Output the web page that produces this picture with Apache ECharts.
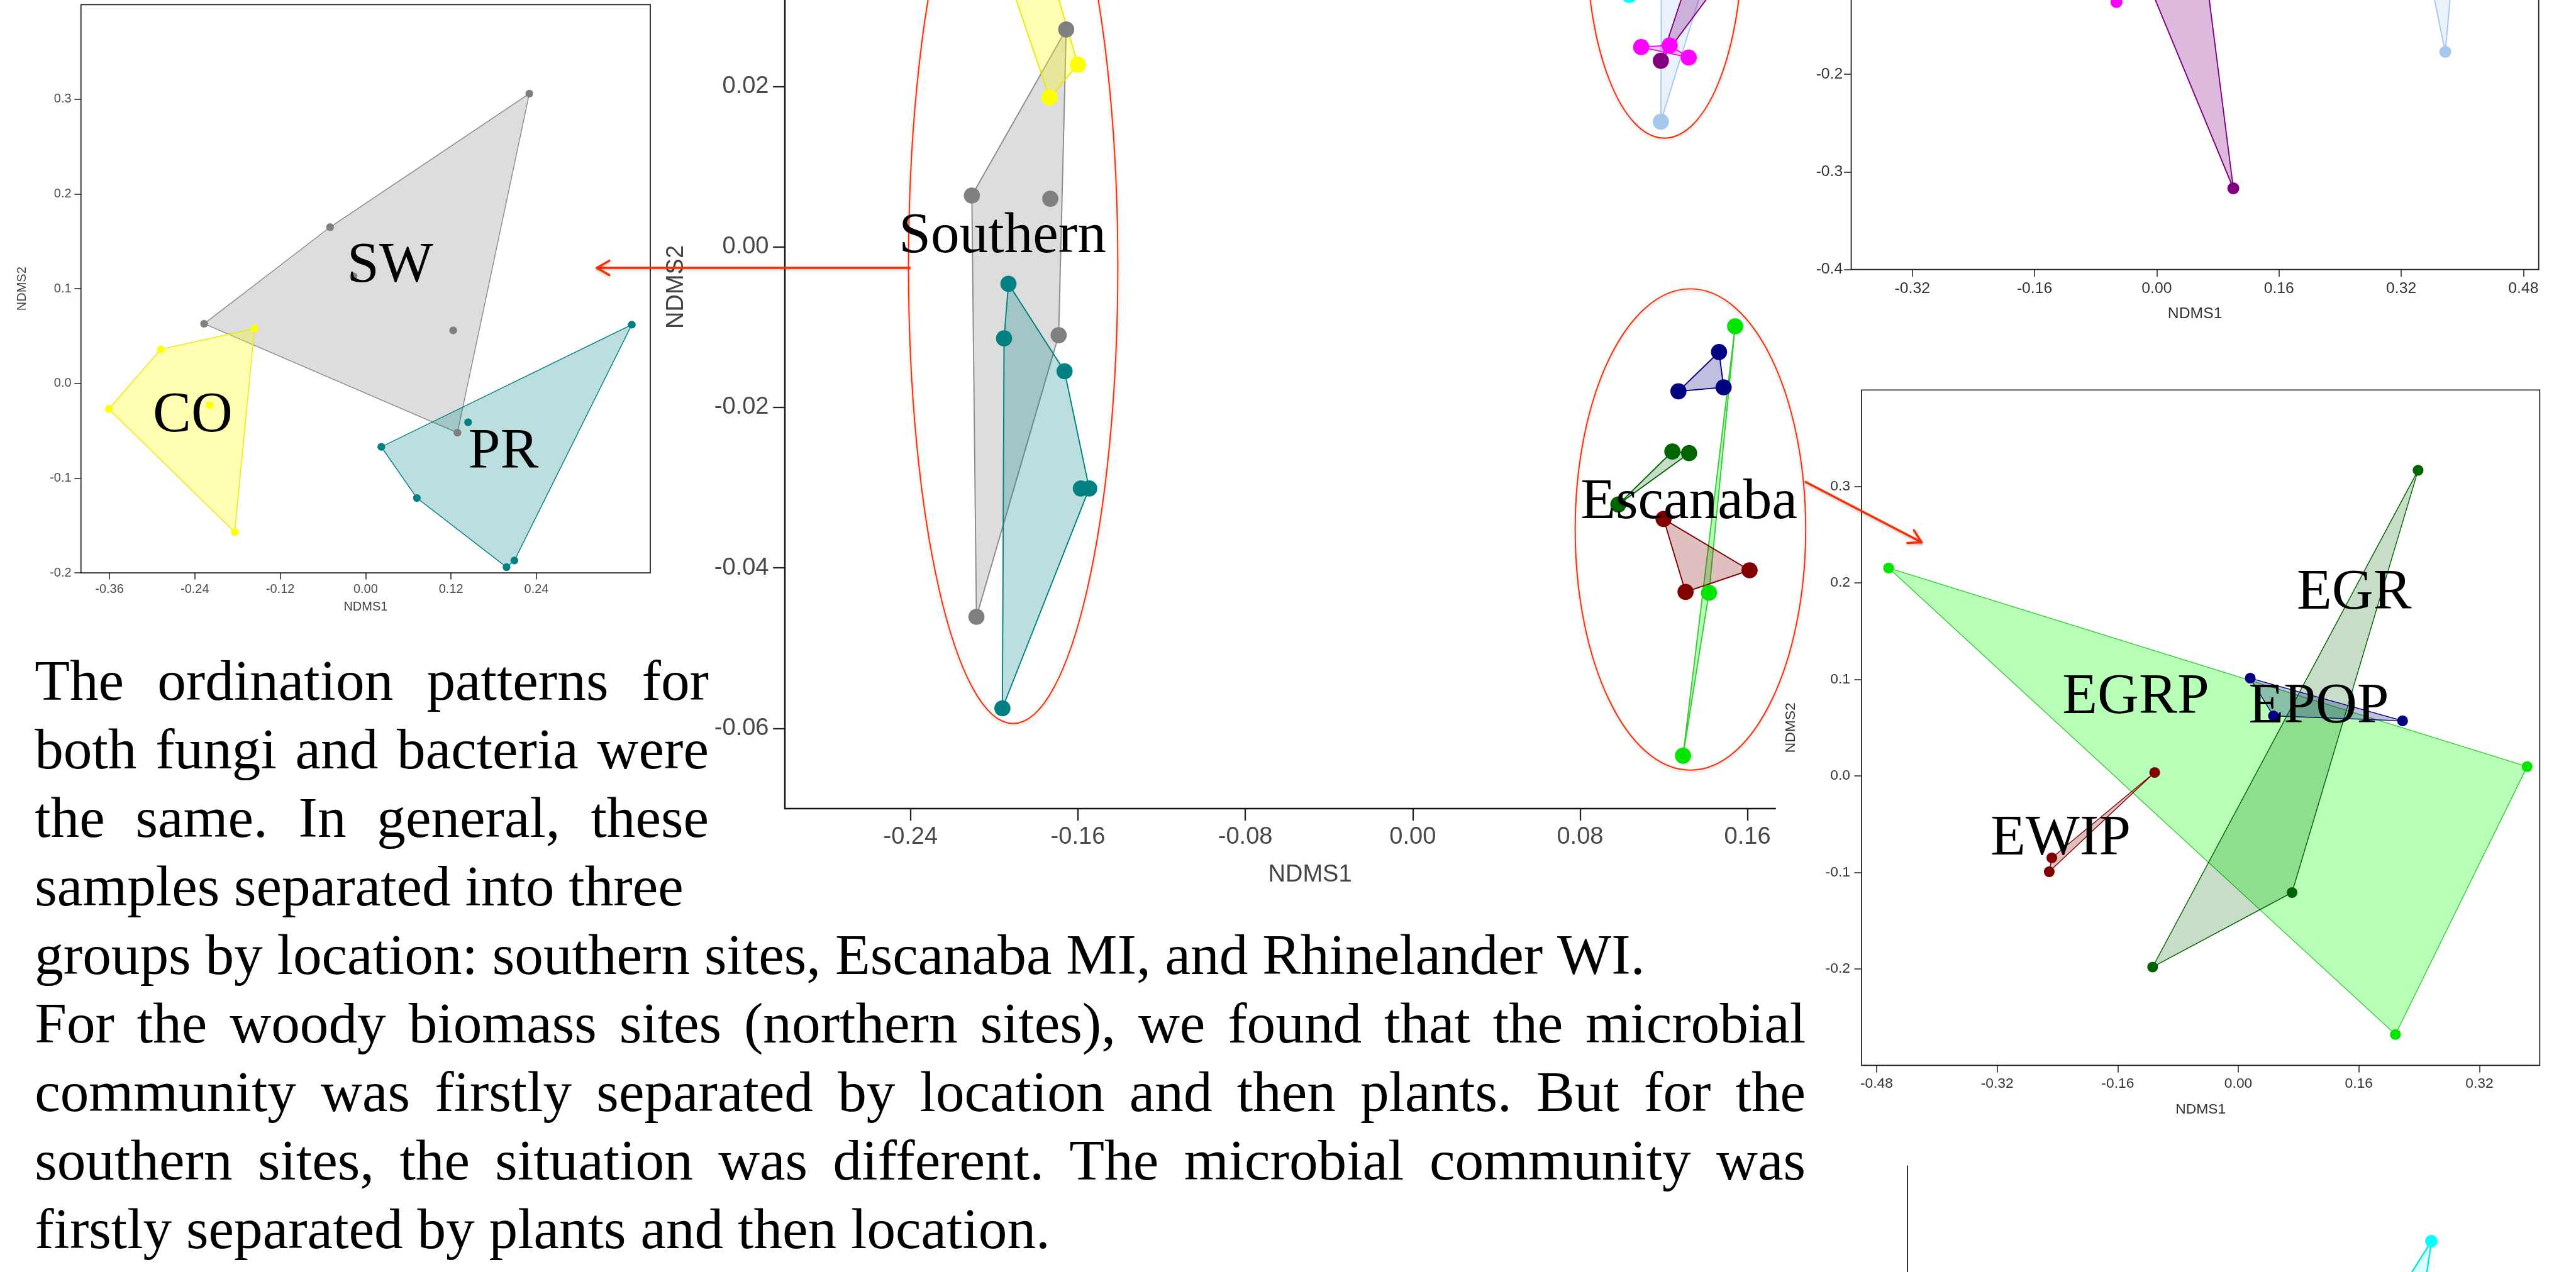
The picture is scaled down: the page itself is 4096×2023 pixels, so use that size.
<!DOCTYPE html>
<html><head><meta charset="utf-8">
<script src="https://cdn.jsdelivr.net/npm/echarts@6/dist/echarts.min.js"></script>
<style>html,body{margin:0;padding:0;background:#fff;}#main{width:4096px;height:2023px;}</style>
</head><body><div id="main"></div>
<script>
// ================= DATA (NDMS1, NDMS2) =================
// Left panel: southern sites
const southSW = [[0.230,0.306],[-0.050,0.165],[-0.017,0.113],[-0.227,0.063],[0.123,0.056],[0.129,-0.052]];
const southCO = [[-0.156,0.058],[-0.288,0.036],[-0.361,-0.027],[-0.219,-0.023],[-0.184,-0.157]];
const southPR = [[0.374,0.062],[0.144,-0.041],[0.022,-0.067],[0.072,-0.121],[0.198,-0.194],[0.209,-0.187]];
// Centre panel: all sites
const allSW   = [[-0.1656,0.0271],[-0.2107,0.0064],[-0.1732,0.0060],[-0.1692,-0.0110],[-0.2085,-0.0461]];
const allCO   = [[-0.1600,0.0227],[-0.1736,0.0186],[-0.1950,0.0350],[-0.1760,0.0370]];
const allPR   = [[-0.1932,-0.0046],[-0.1953,-0.0114],[-0.1664,-0.0155],[-0.1586,-0.0301],[-0.1546,-0.0301],[-0.1961,-0.0575]];
const allEGRP = [[0.1541,-0.0099],[0.1416,-0.0431],[0.1292,-0.0634]];
const allEPOP = [[0.1464,-0.0131],[0.1270,-0.0180],[0.1486,-0.0175]];
const allEGR  = [[0.0983,-0.0321],[0.1241,-0.0255],[0.1321,-0.0257]];
const allEWIP = [[0.1199,-0.0339],[0.1610,-0.0403],[0.1304,-0.0430]];
const allRhBlue   = [[0.1186,0.0156],[0.1190,0.0450],[0.1500,0.0420]];
const allRhPurple = [[0.1186,0.0232],[0.1400,0.0400],[0.1550,0.0360]];
const allRhMag    = [[0.1092,0.0249],[0.1228,0.0251],[0.1319,0.0236]];
const allRhCyan   = [[0.1035,0.0314],[0.0980,0.0450],[0.1150,0.0500]];
// Top-right panel: Rhinelander
const rhBlue   = [[0.3777,-0.1770],[0.3440,-0.0500],[0.3960,-0.0200]];
const rhPurple = [[0.1002,-0.3168],[-0.0250,-0.0800],[0.0600,-0.0700]];
const rhMag    = [[-0.0528,-0.1260],[-0.1200,-0.0200],[0.0200,-0.0600]];
// Bottom-right panel: Escanaba
const escEGRP = [[-0.4641,0.2155],[0.3833,0.0097],[0.2085,-0.2680]];
const escEGR  = [[0.2386,0.3168],[0.0713,-0.1209],[-0.1137,-0.1981]];
const escEPOP = [[0.0158,0.1013],[0.0466,0.0622],[0.2180,0.0571]];
const escEWIP = [[-0.1110,0.0036],[-0.2475,-0.0849],[-0.2509,-0.0993]];
// Bottom panel (only its top edge is visible)
const botCyan = [[0.329,0.311],[0.195,0.152],[0.250,-0.100]];

// Tick values
const southXTicks = [-0.36,-0.24,-0.12,0,0.12,0.24];
const southYTicks = [-0.2,-0.1,0,0.1,0.2,0.3];
const allXTicks   = [-0.24,-0.16,-0.08,0,0.08,0.16];
const allYTicks   = [-0.06,-0.04,-0.02,0,0.02,0.04];
const rhXTicks    = [-0.32,-0.16,0,0.16,0.32,0.48];
const rhYTicks    = [-0.4,-0.3,-0.2,-0.1,0,0.1,0.2];
const escXTicks   = [-0.48,-0.32,-0.16,0,0.16,0.32];
const escYTicks   = [-0.2,-0.1,0,0.1,0.2,0.3];

// ================= STYLE / LAYOUT =================
const S = 0.951;
const P = v => v * S;
const SANS = '"Liberation Sans", Arial, Helvetica, sans-serif';
const SERIF = '"Liberation Serif", "Times New Roman", serif';

const STY = {
  SW:   {color:'#7f7f7f', fill:'rgba(170,170,170,0.4)', stroke:'#8c8c8c'},
  CO:   {color:'#ffff00', fill:'rgba(255,255,0,0.3)',   stroke:'#eaea00'},
  PR:   {color:'#008080', fill:'rgba(0,128,128,0.26)',  stroke:'#008080'},
  EGRP: {color:'#00e600', fill:'rgba(0,255,0,0.28)',    stroke:'#33cc33'},
  EGR:  {color:'#006400', fill:'rgba(0,100,0,0.22)',    stroke:'#006400'},
  EPOP: {color:'#000080', fill:'rgba(0,0,128,0.25)',    stroke:'#000080'},
  EWIP: {color:'#800000', fill:'rgba(128,0,0,0.25)',    stroke:'#800000'},
  BLUE: {color:'#a6c8ec', fill:'rgba(166,200,236,0.25)',stroke:'#a6c8ec'},
  PUR:  {color:'#800080', fill:'rgba(128,0,128,0.27)',  stroke:'#800080'},
  MAG:  {color:'#ff00ff', fill:'rgba(255,0,255,0.2)',   stroke:'#ff00ff'},
  CYAN: {color:'#00ffff', fill:'rgba(0,255,255,0.15)',  stroke:'#00e5e5'}
};

const panels = [
  {groups:[[southSW,'SW'],[southCO,'CO'],[southPR,'PR']], size:13, lw:1.5},
  {groups:[[allSW,'SW'],[allCO,'CO'],[allPR,'PR'],[allEGRP,'EGRP'],[allEGR,'EGR'],[allEPOP,'EPOP'],[allEWIP,'EWIP'],
           [allRhBlue,'BLUE'],[allRhPurple,'PUR'],[allRhMag,'MAG'],[allRhCyan,'CYAN']], size:27, lw:2},
  {groups:[[rhBlue,'BLUE'],[rhPurple,'PUR'],[rhMag,'MAG']], size:20, lw:2},
  {groups:[[escEGRP,'EGRP'],[escEGR,'EGR'],[escEPOP,'EPOP'],[escEWIP,'EWIP']], size:18, lw:1.5},
  {groups:[[botCyan,'CYAN']], size:21, lw:2.5}
];

const grids = [
  {left:135.4, top:7.7,    width:951.9,  height:950.3,  show:true},
  {left:1312.5,top:-392.3, width:1655.8, height:1744.6, show:false},
  {left:3095.2,top:-691.7, width:1149.5, height:1142.4, show:true},
  {left:3112.5,top:652.2,  width:1133.9, height:1129.4, show:true},
  {left:3189,  top:1950,   width:1057,   height:1130,   show:false}
].map(g => ({left:P(g.left), top:P(g.top), width:P(g.width), height:P(g.height), show:g.show,
  borderColor:'#1a1a1a', borderWidth:P(1.8), backgroundColor:'transparent', containLabel:false, outerBoundsMode:'none'}));

function hull(points) {
  const p = points.slice().sort((a,b)=>a[0]-b[0]||a[1]-b[1]);
  if (p.length < 3) return p;
  const cr=(o,a,b)=>(a[0]-o[0])*(b[1]-o[1])-(a[1]-o[1])*(b[0]-o[0]);
  const lo=[]; for (const q of p){ while(lo.length>=2&&cr(lo[lo.length-2],lo[lo.length-1],q)<=0) lo.pop(); lo.push(q);}
  const up=[]; for (let i=p.length-1;i>=0;i--){const q=p[i]; while(up.length>=2&&cr(up[up.length-2],up[up.length-1],q)<=0) up.pop(); up.push(q);}
  up.pop(); lo.pop(); return lo.concat(up);
}

function axis(o) {
  return {
    type:'value', gridIndex:o.g, min:o.min, max:o.max, position:o.pos,
    name:o.name || '', nameLocation:'middle', nameGap:P(o.nameGap||0), nameMoveOverlap:false,
    nameTextStyle:{fontSize:P(o.nameSize||o.fs), color:o.nameColor||o.color, fontFamily:SANS, padding:o.namePad||0},
    axisLine:{show:!!o.line, onZero:false, lineStyle:{color:'#111', width:P(o.lineW||2)}},
    axisTick:{show:!!o.ticks, customValues:o.ticks, length:P(o.tickLen||12), lineStyle:{color:'#222', width:P(o.tickW||1.6)}},
    axisLabel:{show:!!o.ticks, customValues:o.ticks, formatter:v=>v.toFixed(o.dec), fontSize:P(o.fs||20),
      color:o.color, fontFamily:SANS, margin:P(o.margin||10)},
    splitLine:{show:false}, splitArea:{show:false}
  };
}

const xAxes = [
  axis({g:0,pos:'bottom',min:-0.4,max:0.4,ticks:southXTicks,dec:2,fs:21,color:'#4d4d4d',margin:17,tickLen:11,name:'NDMS1',nameGap:47,nameColor:'#444'}),
  axis({g:1,pos:'bottom',min:-0.3,max:0.1733,ticks:allXTicks,dec:2,fs:40,color:'#4a4a4a',margin:28,tickLen:20,tickW:2.4,line:true,lineW:2.6,
        name:'NDMS1',nameGap:91,nameColor:'#444',namePad:[0,0,0,95]}),
  axis({g:2,pos:'bottom',min:-0.4,max:0.5,ticks:rhXTicks,dec:2,fs:26,color:'#333',margin:19,tickLen:12,name:'NDMS1',nameGap:61,nameColor:'#333'}),
  axis({g:3,pos:'bottom',min:-0.5,max:0.4,ticks:escXTicks,dec:2,fs:24,color:'#333',margin:19,tickLen:12,name:'NDMS1',nameGap:62,nameColor:'#333'}),
  axis({g:4,pos:'bottom',min:-0.5,max:0.5,dec:2,fs:24,color:'#333',line:true,lineW:1.8})
];
const yAxes = [
  axis({g:0,pos:'left',min:-0.2,max:0.4,ticks:southYTicks,dec:1,fs:21,color:'#4d4d4d',margin:16,tickLen:11,name:'NDMS2',nameGap:88,nameColor:'#444'}),
  axis({g:1,pos:'left',min:-0.07,max:0.06,ticks:allYTicks,dec:2,fs:40,color:'#4a4a4a',margin:27,tickLen:20,tickW:2.4,line:true,lineW:2.6,
        name:'NDMS2',nameGap:162,nameColor:'#444'}),
  axis({g:2,pos:'left',min:-0.4,max:0.3,ticks:rhYTicks,dec:1,fs:26,color:'#333',margin:14,tickLen:12,name:'NDMS2',nameGap:106,nameColor:'#333'}),
  axis({g:3,pos:'left',min:-0.3,max:0.4,ticks:escYTicks,dec:1,fs:24,color:'#333',margin:19,tickLen:12,name:'NDMS2',nameGap:106,nameColor:'#333'}),
  axis({g:4,pos:'left',min:-0.4,max:0.4,dec:1,fs:24,color:'#333',line:true,lineW:1.8})
];

const series = [];
panels.forEach((pn, gi) => {
  const groups = pn.groups.map(([pts,key]) => Object.assign({pts}, STY[key]));
  series.push({
    type:'custom', xAxisIndex:gi, yAxisIndex:gi, clip:false, silent:true, z:2,
    data: groups.map((g,i)=>[g.pts[0][0], g.pts[0][1], i]),
    encode:{x:0, y:1},
    renderItem:(params, api) => {
      const g = groups[params.dataIndex];
      return {type:'polygon', z2:params.dataIndex,
        shape:{points: hull(g.pts).map(p => api.coord(p))},
        style:{fill:g.fill, stroke:g.stroke, lineWidth:P(pn.lw)}};
    }
  });
  groups.forEach(g => series.push({
    type:'scatter', xAxisIndex:gi, yAxisIndex:gi, data:g.pts, symbol:'circle', symbolSize:P(pn.size),
    itemStyle:{color:g.color, opacity:1}, silent:true, z:3, clip:false
  }));
});

// ================= ANNOTATIONS =================
const graphic = [];
const RED = '#ff2a00';
const ellipses = [[1694,445,175,765],[2783,-99,130,330],[2826.4,885.5,192.7,402.5]];
ellipses.forEach(([cx,cy,rx,ry]) => graphic.push({type:'ellipse', z:10, silent:true,
  shape:{cx:P(cx), cy:P(cy), rx:P(rx), ry:P(ry)},
  style:{fill:'none', stroke:RED, lineWidth:P(2), shadowBlur:P(5), shadowColor:'rgba(0,0,0,0.25)', shadowOffsetY:P(2)}}));

function arrow(x1,y1,x2,y2) {
  const dx=x2-x1, dy=y2-y1, L=Math.hypot(dx,dy), ux=dx/L, uy=dy/L, w=24, a=Math.PI/6;
  const bx=-ux, by=-uy;
  const r1=[x2+w*(Math.cos(a)*bx-Math.sin(a)*by), y2+w*(Math.sin(a)*bx+Math.cos(a)*by)];
  const r2=[x2+w*(Math.cos(-a)*bx-Math.sin(-a)*by), y2+w*(Math.sin(-a)*bx+Math.cos(-a)*by)];
  const st={stroke:RED, lineWidth:P(3.6), fill:null, lineCap:'round', lineJoin:'round', shadowBlur:P(4), shadowColor:'rgba(0,0,0,0.25)', shadowOffsetY:P(2)};
  graphic.push({type:'polyline', z:10, silent:true, shape:{points:[[P(x1),P(y1)],[P(x2),P(y2)]]}, style:st});
  graphic.push({type:'polyline', z:10, silent:true, shape:{points:[[P(r1[0]),P(r1[1])],[P(x2),P(y2)],[P(r2[0]),P(r2[1])]]}, style:st});
}
arrow(1521,448,998,448);
arrow(3019,806,3213,907);

const BIG = 96;
const bigLabels = [
  ['SW',652.3,443.2],['CO',322.3,693.6],['PR',841.8,754.1],['Southern',1676.2,394.1],['Escanaba',2824,838.6],
  ['EGR',3936.2,989.7],['EGRP',3571,1164.3],['EPOP',3877,1180.4],['EWIP',3445.3,1401.4]
];
bigLabels.forEach(([t,x,y]) => graphic.push({type:'text', z:20, silent:true, x:P(x), y:P(y+2.5),
  style:{text:t, font:`${P(BIG)}px ${SERIF}`, fill:'#000', align:'center', verticalAlign:'middle'}}));

// Paragraph
const paraLines = [
  ['The ordination patterns for', 1185],
  ['both fungi and bacteria were', 1185],
  ['the same. In general, these', 1185],
  ['samples separated into three', 0],
  ['groups by location: southern sites, Escanaba MI, and Rhinelander WI.', 0],
  ['For the woody biomass sites (northern sites), we found that the microbial', 3019],
  ['community was firstly separated by location and then plants. But for the', 3019],
  ['southern sites, the situation was different. The microbial community was', 3019],
  ['firstly separated by plants and then location.', 0]
];
const paraLeft = 58, paraBase0 = 1174.4, paraStep = 114.5;
const paraFont = `${P(BIG)}px ${SERIF}`;
const mctx = document.createElement('canvas').getContext('2d');
mctx.font = paraFont;
paraLines.forEach(([text, right], i) => {
  const yMid = P(paraBase0 + i*paraStep - 0.3*BIG);
  const add = (t,x) => graphic.push({type:'text', z:20, silent:true, x, y:yMid,
    style:{text:t, font:paraFont, fill:'#000', align:'left', verticalAlign:'middle'}});
  if (right) {
    const words = text.split(' ');
    const ws = words.map(w => mctx.measureText(w).width);
    const tot = ws.reduce((a,b)=>a+b,0);
    const gap = (P(right - paraLeft) - tot) / (words.length - 1);
    let x = P(paraLeft);
    words.forEach((w,k) => { add(w, x); x += ws[k] + gap; });
  } else add(text, P(paraLeft));
});

const chart = echarts.init(document.getElementById('main'), null, {renderer:'canvas', width:4096, height:2023});
chart.setOption({
  animation:false, backgroundColor:'#fff',
  grid:grids, xAxis:xAxes, yAxis:yAxes, series, graphic
});
</script></body></html>
